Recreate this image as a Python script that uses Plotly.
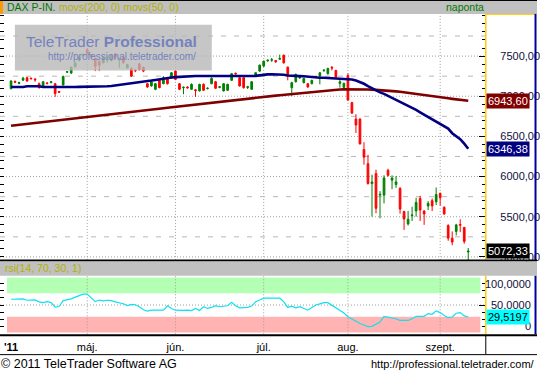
import pandas as pd
import plotly.graph_objects as go

# ---------------- data ----------------
holidays = ["2011-04-22", "2011-04-25"]
dates = [d.strftime("%Y-%m-%d") for d in pd.bdate_range("2011-04-01", "2011-09-12")
         if d.strftime("%Y-%m-%d") not in holidays]

open_ = [7095, 7185, 7160, 7200, 7230, 7225, 7215, 7156, 7128, 7165,
         7170, 7156, 7058, 7140, 7300, 7288, 7366, 7444, 7510, 7580,
         7518, 7469, 7436, 7416, 7450, 7444, 7527, 7450, 7486, 7354,
         7346, 7325, 7403, 7362, 7156, 7128, 7086, 7198, 7156, 7230,
         7230, 7313, 7156, 7105, 7115, 7086, 7080, 7066, 7148, 7095,
         7156, 7181, 7110, 7066, 7074, 7198, 7285, 7230, 7230, 7110,
         7086, 7252, 7313, 7375, 7440, 7448, 7445, 7460, 7510, 7362,
         7107, 7181, 7228, 7169, 7156, 7156, 7245, 7251, 7318, 7280,
         7360, 7321, 7160, 7110, 7259, 6921, 6716, 6716, 6337, 6160,
         5913, 6037, 5770, 5769, 6078, 5955, 5901, 5852, 5564, 5411,
         5515, 5572, 5728, 5572, 5634, 5700, 5687, 5790, 5617, 5391,
         5234, 5317, 5404, 5366, 5062]
close = [7189, 7175, 7170, 7225, 7190, 7218, 7205, 7107, 7180, 7158,
         7180, 7033, 7050, 7247, 7305, 7362, 7416, 7486, 7520, 7527,
         7486, 7374, 7387, 7486, 7458, 7510, 7478, 7460, 7416, 7395,
         7251, 7318, 7333, 7313, 7115, 7180, 7156, 7107, 7230, 7156,
         7292, 7210, 7086, 7112, 7105, 7148, 7070, 7148, 7074, 7100,
         7222, 7099, 7118, 7156, 7148, 7280, 7278, 7128, 7107, 7118,
         7180, 7292, 7387, 7436, 7448, 7455, 7430, 7470, 7416, 7251,
         7169, 7272, 7235, 7222, 7115, 7198, 7238, 7292, 7325, 7346,
         7350, 7239, 7180, 7160, 6954, 6790, 6642, 6407, 6242, 5913,
         5933, 5605, 5778, 5983, 6016, 5983, 5934, 5596, 5473, 5469,
         5522, 5679, 5584, 5535, 5667, 5634, 5777, 5736, 5535, 5234,
         5185, 5399, 5396, 5193, 5072.33]
high = [7200, 7195, 7180, 7242, 7240, 7232, 7222, 7170, 7190, 7175,
        7190, 7165, 7065, 7255, 7312, 7370, 7425, 7495, 7530, 7600,
        7525, 7480, 7440, 7495, 7498, 7520, 7540, 7475, 7495, 7405,
        7360, 7335, 7415, 7370, 7165, 7190, 7165, 7210, 7250, 7240,
        7300, 7325, 7165, 7120, 7125, 7160, 7090, 7155, 7160, 7110,
        7235, 7190, 7128, 7165, 7155, 7290, 7295, 7240, 7240, 7130,
        7190, 7300, 7395, 7445, 7458, 7477, 7450, 7518, 7520, 7370,
        7180, 7282, 7245, 7232, 7165, 7205, 7255, 7300, 7335, 7355,
        7375, 7330, 7210, 7170, 7284, 6930, 6777, 6725, 6428, 6271,
        6024, 6086, 5819, 6016, 6098, 6016, 6008, 5870, 5575, 5572,
        5625, 5736, 5761, 5580, 5695, 5728, 5864, 5802, 5630, 5407,
        5317, 5412, 5469, 5375, 5111]
low = [7085, 7165, 7150, 7190, 7180, 7210, 7180, 7095, 7120, 7148,
       7160, 6992, 7040, 7135, 7290, 7280, 7360, 7435, 7500, 7520,
       7480, 7313, 7313, 7410, 7416, 7435, 7470, 7355, 7405, 7345,
       7240, 7300, 7320, 7300, 7105, 7120, 7075, 7100, 7150, 7145,
       7220, 7200, 7075, 7025, 7095, 7080, 6992, 7060, 7065, 7085,
       7150, 7090, 7100, 7060, 7065, 7190, 7270, 7120, 7095, 7090,
       7080, 7245, 7305, 7365, 7430, 7428, 7415, 7455, 7405, 7198,
       7004, 7170, 7215, 7160, 7105, 7148, 7230, 7148, 7305, 7270,
       7321, 7230, 7107, 7100, 6945, 6780, 6543, 6400, 6148, 5900,
       5502, 5543, 5481, 5666, 6000, 5843, 5860, 5539, 5337, 5391,
       5448, 5502, 5448, 5399, 5584, 5572, 5646, 5638, 5525, 5201,
       5144, 5267, 5308, 5164, 4950]

movs200 = [6633, 6639, 6645, 6651, 6657, 6662, 6668, 6674, 6680, 6685,
           6691, 6697, 6703, 6708, 6714, 6720, 6725, 6731, 6737, 6742,
           6748, 6754, 6760, 6765, 6771, 6777, 6782, 6788, 6794, 6799,
           6805, 6811, 6817, 6822, 6828, 6834, 6839, 6845, 6851, 6856,
           6862, 6868, 6874, 6879, 6885, 6891, 6896, 6902, 6908, 6913,
           6919, 6925, 6931, 6936, 6942, 6948, 6953, 6959, 6964, 6970,
           6975, 6980, 6986, 6991, 6997, 7002, 7008, 7013, 7018, 7024,
           7029, 7035, 7040, 7046, 7051, 7056, 7062, 7067, 7072, 7077,
           7080, 7082, 7084, 7085, 7086, 7086, 7086, 7086, 7085, 7084,
           7082, 7080, 7077, 7074, 7070, 7066, 7061, 7056, 7050, 7044,
           7037, 7030, 7023, 7016, 7009, 7002, 6995, 6988, 6981, 6974,
           6967, 6961, 6955, 6949, 6943.60]
movs50 = [7115, 7115, 7115, 7115, 7125, 7126, 7126, 7124, 7115, 7114,
          7114, 7113, 7113, 7114, 7114, 7115, 7115, 7116, 7116, 7116,
          7117, 7117, 7119, 7121, 7124, 7128, 7134, 7142, 7150, 7156,
          7160, 7164, 7169, 7178, 7186, 7195, 7203, 7212, 7220, 7228,
          7234, 7238, 7242, 7246, 7250, 7251, 7252, 7252, 7252, 7251,
          7251, 7251, 7250, 7248, 7246, 7245, 7246, 7248, 7250, 7251,
          7252, 7254, 7260, 7268, 7272, 7274, 7274, 7272, 7268, 7258,
          7253, 7251, 7250, 7248, 7242, 7236, 7233, 7231, 7230, 7229,
          7228, 7224, 7218, 7214, 7212, 7208, 7196, 7178, 7155, 7127,
          7098, 7068, 7048, 7030, 7006, 6980, 6955, 6930, 6905, 6880,
          6855, 6830, 6800, 6772, 6745, 6718, 6690, 6660, 6630, 6598,
          6540, 6505, 6465, 6410, 6346.38]
rsi = [59.9, 59.9, 59.9, 60.5, 58.2, 58.5, 58.8, 55.5, 54.1, 55.8,
       54.1, 46.5, 47.5, 57.5, 59.0, 60.5, 63.5, 66.4, 68.7, 68.7,
       63.0, 55.8, 58.5, 57.0, 58.2, 57.5, 55.5, 54.1, 52.3, 49.0,
       51.2, 50.5, 47.0, 42.0, 39.5, 41.2, 41.5, 41.2, 41.2, 48.8,
       44.2, 41.2, 40.6, 40.8, 41.2, 40.6, 44.2, 40.6, 47.1, 44.2,
       45.9, 48.8, 47.1, 48.2, 48.8, 54.7, 48.8, 45.3, 45.6, 45.9,
       48.2, 55.8, 58.5, 61.7, 61.7, 61.9, 62.3, 61.7, 55.8, 45.9,
       48.2, 45.3, 47.1, 44.0, 41.2, 45.9, 50.0, 52.0, 54.1, 54.1,
       50.0, 45.3, 41.2, 36.5, 30.0, 26.0, 22.5, 18.5, 16.0, 13.2,
       13.7, 17.0, 20.8, 30.7, 29.5, 28.0, 26.6, 23.7, 23.7, 23.7,
       26.6, 30.7, 30.7, 30.7, 35.4, 34.2, 40.1, 37.1, 32.0, 28.4,
       29.5, 36.0, 37.1, 31.5, 29.5197]

price_ticks = [5000, 5500, 6000, 6500, 7000, 7500]
price_tick_text = ["5000,00", "5500,00", "6000,00", "6500,00", "7000,00", "7500,00"]
month_days = ["2011-04-01", "2011-05-02", "2011-06-01", "2011-07-01", "2011-08-01", "2011-09-01"]
month_text = ["<b>'11</b>", "máj.", "jún.", "júl.", "aug.", "szept."]

# ---------------- geometry helpers (pixels -> paper) ----------------
W, H = 540, 375
def px(x): return x / W
def py(y): return 1 - y / H

FONT = "Arial, 'Liberation Sans', sans-serif"
PLOT_R = 488
n = len(dates)
XR = [-2.75, n - 1 + 4.25]

fig = go.Figure()

fig.add_trace(go.Candlestick(
    x=dates, open=open_, high=high, low=low, close=close,
    increasing=dict(line=dict(color="#008000", width=1), fillcolor="#008000"),
    decreasing=dict(line=dict(color="#ff0000", width=1), fillcolor="#ff0000"),
    whiskerwidth=0, xaxis="x", yaxis="y", hoverinfo="skip"))
fig.add_trace(go.Scatter(x=dates, y=movs200, mode="lines",
                         line=dict(color="#800000", width=2.6), xaxis="x", yaxis="y", hoverinfo="skip"))
fig.add_trace(go.Scatter(x=dates, y=movs50, mode="lines",
                         line=dict(color="#000080", width=2.6), xaxis="x", yaxis="y", hoverinfo="skip"))
fig.add_trace(go.Scatter(x=dates, y=rsi, mode="lines",
                         line=dict(color="#10e0f0", width=1.2), xaxis="x2", yaxis="y2", hoverinfo="skip"))
# carriers for the left-edge tick marks
fig.add_trace(go.Scatter(x=[dates[0]], y=[6000], mode="none", xaxis="x", yaxis="y3", hoverinfo="skip"))
fig.add_trace(go.Scatter(x=[dates[0]], y=[50], mode="none", xaxis="x2", yaxis="y4", hoverinfo="skip"))

main_dom = [py(262), py(14)]
rsi_dom = [py(337), py(278)]
YR = [4963, 8025]

shapes = []
# RSI zones
shapes.append(dict(type="rect", xref="paper", yref="y2", x0=px(7), x1=px(483), y0=70, y1=97,
                   fillcolor="#b3ffb3", line=dict(width=0), layer="below"))
shapes.append(dict(type="rect", xref="paper", yref="y2", x0=px(7), x1=px(483), y0=3, y1=30,
                   fillcolor="#ffb3b3", line=dict(width=0), layer="below"))
# grid: vertical month lines
for d in month_days[1:]:
    for yref in ("y domain", "y2 domain"):
        shapes.append(dict(type="line", xref="x", yref=yref, x0=d, x1=d, y0=0, y1=1,
                           line=dict(color="#a0a0a0", width=1, dash="1px,2px"), layer="below"))
# grid: horizontal price lines
for v in price_ticks:
    shapes.append(dict(type="line", xref="x domain", yref="y", x0=0, x1=1, y0=v, y1=v,
                       line=dict(color="#a0a0a0", width=1, dash="1px,2px"), layer="below"))
    shapes.append(dict(type="line", xref="x domain", yref="y", x0=0, x1=1, y0=v + 250, y1=v + 250,
                       line=dict(color="#b8b8b8", width=1, dash="5px,8px"), layer="below"))
shapes.append(dict(type="line", xref="x2 domain", yref="y2", x0=0, x1=1, y0=50, y1=50,
                   line=dict(color="#a0a0a0", width=1, dash="1px,2px"), layer="below"))

def hline(y, x0, x1, color, w):
    shapes.append(dict(type="line", xref="paper", yref="paper", x0=px(x0), x1=px(x1),
                       y0=py(y), y1=py(y), line=dict(color=color, width=w), layer="above"))
def vline(x, y0, y1, color, w):
    shapes.append(dict(type="line", xref="paper", yref="paper", x0=px(x), x1=px(x),
                       y0=py(y0), y1=py(y1), line=dict(color=color, width=w), layer="above"))
def rect(x0, y0, x1, y1, color, layer="above", opacity=1):
    shapes.append(dict(type="rect", xref="paper", yref="paper", x0=px(x0), x1=px(x1),
                       y0=py(y1), y1=py(y0), fillcolor=color, line=dict(width=0),
                       layer=layer, opacity=opacity))

# header bar
rect(0, 0, 540, 14, "#c0c0c0")
rect(0, 0, 3, 14, "#ff9900")
hline(0.5, 0, 540, "#000000", 1)
# main panel right column borders
vline(488.5, 14, 262, "#ffcc00", 1.5)
hline(14.5, 488, 538, "#ffcc00", 1)
vline(538.5, 14, 262, "#0000a0", 2)
# separator + RSI header
hline(262.5, 0, 540, "#000000", 2)
rect(0, 263.5, 540, 278, "#c0c0c0")
# RSI right column
vline(488.5, 278, 337, "#ffcc00", 1.5)
vline(538.5, 278, 337, "#0000a0", 2)
# bottom rows
hline(338, 0, 540, "#000000", 2)
hline(357.5, 0, 540, "#000000", 1)
vline(488.5, 338, 357, "#000000", 1)
# watermark box
rect(15, 25, 213, 71, "#b8b8b8", opacity=0.8)

annotations = []
def text(t, x, y, size, color, xanchor="left", bg=None, yref="paper"):
    annotations.append(dict(text=t, x=px(x), y=(py(y) if yref == "paper" else y), xref="paper", yref=yref,
                            xanchor=xanchor, yanchor="middle", showarrow=False,
                            font=dict(family=FONT, size=size, color=color),
                            bgcolor=bg, borderpad=1 if bg else 0))

text("DAX P-IN.", 6, 7.5, 10.5, "#007800")
text("movs(200, 0) movs(50, 0)", 58, 7.5, 10.5, "#b4b000")
text("naponta", 447, 7.5, 10.5, "#007800")
text("rsi(14, 70, 30, 1)", 4, 270.5, 10.5, "#b4b000")
text("TeleTrader <b>Professional</b>", 25, 41.5, 15.5, "#7483bd")
text("http://professional.teletrader.com/", 47, 57, 10, "#7483bd")
# last-value boxes
text("6943,60", 489, movs200[-1], 11, "#ffffff", bg="#800000", yref="y")
text("6346,38", 489, movs50[-1], 11, "#ffffff", bg="#000080", yref="y")
text("5072,33", 489, close[-1], 11, "#ffffff", bg="#000000", yref="y")
# RSI axis labels
annotations.append(dict(text="100,0000", x=px(536), y=100, xref="paper", yref="y2", xanchor="right",
                        yanchor="top", showarrow=False, font=dict(family=FONT, size=11, color="#10103a")))
annotations.append(dict(text="50,0000", x=px(536), y=50, xref="paper", yref="y2", xanchor="right",
                        yanchor="middle", showarrow=False, font=dict(family=FONT, size=11, color="#10103a")))
annotations.append(dict(text="0", x=px(536), y=0, xref="paper", yref="y2", xanchor="right",
                        yanchor="bottom", showarrow=False, font=dict(family=FONT, size=11, color="#10103a")))
text("29,5197", 489, rsi[-1], 11, "#000000", bg="#00ffff", yref="y2")
# footer
text("© 2011 TeleTrader Software AG", 0, 367, 12.5, "#000000")
text("http://professional.teletrader.com/", 539, 367, 11, "#000000", xanchor="right")

fig.update_layout(
    width=W, height=H, margin=dict(l=0, r=0, t=0, b=0, pad=0),
    paper_bgcolor="#ffffff", plot_bgcolor="rgba(0,0,0,0)",
    showlegend=False, boxgap=0.4, hovermode=False,
    font=dict(family=FONT, size=11, color="#000000"),
    xaxis=dict(domain=[0, px(PLOT_R)], anchor="y", type="category", range=XR,
               showticklabels=False, showgrid=False, zeroline=False, showline=False,
               ticks="", rangeslider=dict(visible=False), fixedrange=True),
    yaxis=dict(domain=main_dom, anchor="x", side="right", range=YR,
               tickmode="array", tickvals=price_ticks, ticktext=price_tick_text,
               ticks="inside", ticklen=6, tickcolor="#000000", tickwidth=1,
               ticklabelstandoff=14,
               minor=dict(tickmode="linear", tick0=5000, dtick=100, ticks="inside",
                          ticklen=3, tickcolor="#000000", showgrid=False),
               tickfont=dict(family=FONT, size=11, color="#10103a"),
               showgrid=False, zeroline=False, showline=False, fixedrange=True),
    yaxis3=dict(overlaying="y", anchor="x", side="left", range=YR, tickmode="linear",
                tick0=5000, dtick=100, ticks="inside", ticklen=4, tickcolor="#000000",
                showticklabels=False, showgrid=False, zeroline=False, showline=False),
    xaxis2=dict(domain=[0, px(PLOT_R)], anchor="y2", type="category", range=XR,
                tickmode="array", tickvals=month_days, ticktext=month_text,
                ticks="", ticklabelstandoff=5,
                tickfont=dict(family=FONT, size=11, color="#000000"),
                showgrid=False, zeroline=False, showline=False, fixedrange=True),
    yaxis2=dict(domain=rsi_dom, anchor="x2", side="right", range=[0, 100],
                tickmode="linear", tick0=0, dtick=50, ticks="inside", ticklen=6,
                tickcolor="#000000", showticklabels=False,
                minor=dict(tickmode="linear", tick0=0, dtick=12.5, ticks="inside",
                           ticklen=3, tickcolor="#000000"),
                showgrid=False, zeroline=False, showline=False, fixedrange=True),
    yaxis4=dict(overlaying="y2", anchor="x2", side="left", range=[0, 100], tickmode="linear",
                tick0=0, dtick=12.5, ticks="inside", ticklen=4, tickcolor="#000000",
                showticklabels=False, showgrid=False, zeroline=False, showline=False),
    shapes=shapes, annotations=annotations,
)

fig.write_html("out.html", config={"displayModeBar": False, "staticPlot": True},
               post_script="document.body.style.margin='0';document.body.style.overflow='hidden';")
